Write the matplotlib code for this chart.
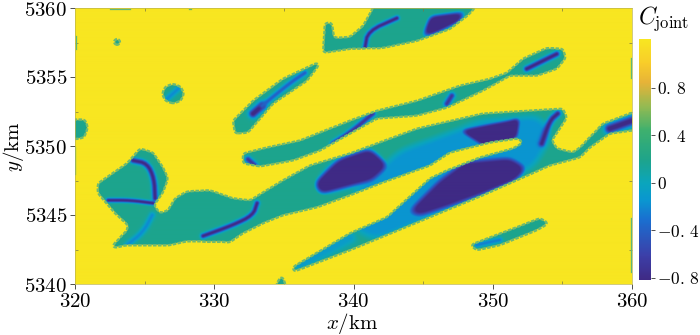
import numpy as np
from matplotlib import pyplot as plt
from matplotlib.colors import LinearSegmentedColormap
from matplotlib.path import Path

plt.rcParams.update({'mathtext.fontset': 'cm', 'font.family': 'serif', 'font.size': 13})

# Ranges of the map and colour scale
x_range = (320, 360)
y_range = (5340, 5360)
c_range = (-0.82, 1.21)
x_ticks = [320, 330, 340, 350, 360]
y_ticks = [5340, 5345, 5350, 5355, 5360]
c_ticks = [-0.8, -0.4, 0, 0.4, 0.8]
c_labels = [r'$-0.\,8$', r'$-0.\,4$', r'$0$', r'$0.\,4$', r'$0.\,8$']

background = 1.21
body_value = 0.18

# Outlines of the low-value bodies [km]
main_body = [(322.73, 5342.82), (323.73, 5343.90), (323.81, 5344.26), (322.87, 5345.13), (321.65, 5346.57),
             (321.65, 5347.29), (323.73, 5348.74), (324.67, 5349.82), (325.60, 5349.53), (326.32, 5348.45),
             (326.68, 5347.65), (326.32, 5346.64), (325.67, 5345.70), (326.10, 5345.13), (326.68, 5345.34),
             (327.18, 5346.21), (328.04, 5346.71), (329.69, 5346.79), (331.34, 5346.21), (332.57, 5346.06),
             (334.93, 5347.51), (336.87, 5348.59), (339.75, 5349.46), (344.56, 5351.26), (349.29, 5352.35),
             (355.04, 5352.71), (355.33, 5352.06), (354.25, 5350.40), (354.61, 5349.82), (355.76, 5349.53),
             (356.26, 5349.89), (357.91, 5351.62), (360.50, 5352.60), (360.50, 5351.20), (358.41, 5350.90),
             (356.98, 5349.89), (356.26, 5349.17), (354.11, 5348.59), (349.29, 5346.43), (339.75, 5342.45),
             (335.65, 5340.87), (335.65, 5341.23), (339.75, 5343.68), (342.40, 5344.84), (345.49, 5347.65),
             (346.71, 5348.23), (349.08, 5349.17), (351.45, 5349.82), (352.09, 5350.18), (352.09, 5350.40),
             (351.74, 5350.54), (349.80, 5350.25), (346.93, 5349.53), (345.49, 5348.59), (342.11, 5347.36),
             (339.75, 5346.43), (337.38, 5345.56), (334.93, 5344.98), (333.50, 5344.40), (332.06, 5343.68),
             (331.13, 5343.03), (328.04, 5343.10), (326.82, 5342.82), (323.73, 5342.82), (322.73, 5342.60)]
upper_body = [(332.06, 5349.46), (333.79, 5349.89), (336.16, 5350.40), (339.75, 5351.84), (341.68, 5352.56),
              (344.56, 5353.28), (347.64, 5354.37), (349.80, 5354.87), (351.02, 5355.31), (352.17, 5356.32),
              (353.89, 5357.11), (355.04, 5357.04), (355.25, 5356.39), (354.61, 5355.60), (353.17, 5355.09),
              (351.23, 5355.09), (349.29, 5354.01), (346.71, 5352.78), (344.56, 5352.20), (341.68, 5351.99),
              (339.75, 5350.90), (337.59, 5349.67), (335.65, 5348.95), (333.28, 5348.52), (332.06, 5348.74)]
top_body = [(337.95, 5358.92), (338.45, 5358.92), (338.60, 5357.83), (339.75, 5357.91), (340.68, 5358.70),
            (341.68, 5360.50), (349.20, 5360.50), (348.15, 5359.42), (346.93, 5358.48), (344.56, 5357.62),
            (342.11, 5357.11), (339.75, 5357.04), (337.81, 5356.75)]
slim_body = [(337.38, 5356.03), (334.93, 5354.87), (332.78, 5353.28), (331.34, 5351.84), (331.49, 5350.90),
             (332.42, 5350.97), (334.22, 5353.07), (336.66, 5354.73), (337.59, 5355.96)]
small_lens = [(348.36, 5342.82), (351.74, 5344.12), (353.39, 5344.77), (354.03, 5344.40), (353.17, 5343.90),
              (350.52, 5342.82), (348.86, 5342.45)]
ellipse_body = [(326.25, 5353.79), (326.48, 5354.30), (327.04, 5354.51), (327.60, 5354.30), (327.83, 5353.79),
                (327.60, 5353.28), (327.04, 5353.07), (326.48, 5353.28)]
dot_body = [(322.72, 5357.54), (323.02, 5357.84), (323.32, 5357.54), (323.02, 5357.24)]
left_blob = [(319.50, 5351.91), (320.72, 5351.91), (320.93, 5351.34), (320.65, 5350.61), (319.50, 5350.40)]
bottom_blob = [(334.15, 5339.50), (334.86, 5340.65), (335.29, 5339.50)]
bodies = [main_body, upper_body, top_body, slim_body, small_lens, ellipse_body, dot_body, left_blob, bottom_blob]

# Thin green marks along the frame [km]
edge_marks = [[(320.05, 5357.98), (320.05, 5357.04)], [(322.50, 5359.93), (323.95, 5359.93)],
              [(328.20, 5359.93), (328.35, 5359.93)], [(359.93, 5344.77), (359.93, 5340.87)],
              [(359.93, 5356.40), (359.93, 5354.90)], [(320.03, 5349.90), (320.03, 5348.00)]]

# Broad low areas: outline, value, smoothing [km]
halo_area = [(339.75, 5346.43), (343.34, 5349.67), (346.93, 5350.97), (349.08, 5351.84), (353.39, 5352.20),
             (354.25, 5350.76), (353.03, 5348.59), (349.08, 5346.28), (344.77, 5344.48), (341.54, 5343.18),
             (340.10, 5343.90)]
blob_top = [(344.91, 5357.83), (345.49, 5359.42), (348.15, 5359.78), (347.64, 5359.06), (346.21, 5358.34)]
blob_mid = [(337.20, 5347.30), (338.90, 5349.00), (341.18, 5349.80), (342.50, 5348.59), (341.30, 5347.50),
            (339.39, 5347.00), (337.59, 5346.50)]
blob_east = [(347.64, 5351.12), (351.23, 5351.84), (351.95, 5352.06), (351.74, 5350.61), (349.58, 5349.89)]
blob_big = [(343.91, 5345.15), (345.13, 5346.38), (346.21, 5347.47), (348.00, 5348.81), (351.23, 5349.10),
            (352.45, 5348.38), (351.59, 5347.51), (349.29, 5346.57), (346.93, 5345.70), (344.77, 5344.98)]
areas = [(halo_area, -0.15, 0.5), (blob_mid, -0.25, 0.7), (blob_big, -0.25, 0.6), (blob_top, -0.9, 0.25),
         (blob_mid, -0.9, 0.3), (blob_east, -0.9, 0.2), (blob_big, -0.9, 0.3)]

# Narrow streaks: centre line, half width [km], value
streaks = [([(322.37, 5346.06), (323.95, 5346.06), (325.60, 5345.85)], 0.15, -0.85),
           ([(324.16, 5348.95), (325.17, 5348.74), (325.67, 5347.65), (325.74, 5346.21)], 0.2, -0.85),
           ([(323.73, 5342.82), (324.88, 5343.75), (325.53, 5344.98)], 0.22, -0.2),
           ([(329.19, 5343.47), (331.34, 5344.26), (332.78, 5344.98), (333.07, 5345.85)], 0.18, -0.85),
           ([(332.78, 5352.35), (333.43, 5352.92)], 0.3, -0.9),
           ([(333.43, 5352.92), (335.44, 5354.58), (336.51, 5355.31)], 0.2, -0.4),
           ([(332.42, 5349.03), (332.92, 5348.59)], 0.22, -0.7),
           ([(338.52, 5350.18), (339.75, 5350.97), (341.40, 5352.35)], 0.2, -0.7),
           ([(346.71, 5353.07), (347.07, 5353.65)], 0.22, -0.7),
           ([(352.45, 5355.60), (354.61, 5356.68)], 0.2, -0.85),
           ([(340.82, 5357.11), (341.04, 5358.34), (343.12, 5359.28)], 0.17, -0.85),
           ([(353.53, 5350.18), (354.11, 5351.84), (354.68, 5352.35)], 0.22, -0.85),
           ([(358.41, 5351.26), (360.20, 5351.90)], 0.35, -0.9),
           ([(326.61, 5353.43), (327.40, 5354.15)], 0.22, -0.2),
           ([(348.86, 5342.82), (350.52, 5343.18)], 0.2, -0.25),
           ([(336.16, 5341.37), (339.75, 5343.32)], 0.45, -0.1)]

# Parula like colours
cmap = LinearSegmentedColormap.from_list('joint', [(0.00, '#3f2a85'), (0.10, '#3c3fa8'), (0.25, '#1a6fd0'),
                                                   (0.33, '#0a96d0'), (0.40, '#0aa5bd'), (0.50, '#1ea48a'),
                                                   (0.62, '#3eb06e'), (0.72, '#93ba52'), (0.82, '#e6b338'),
                                                   (0.90, '#f8cc2a'), (1.00, '#f8e621')])

# Grid of the field, twice the pixel size
nx, ny = 1114, 554
gx = np.linspace(x_range[0], x_range[1], nx)
gy = np.linspace(y_range[0], y_range[1], ny)
X, Y = np.meshgrid(gx, gy)
pts = np.column_stack([X.ravel(), Y.ravel()])
dx = gx[1] - gx[0]


def inside(poly):
    return Path(poly + [poly[0]]).contains_points(pts).reshape(X.shape).astype(float)


def smooth(a, sigma):
    n = int(3*sigma/dx) + 1
    k = np.exp(-0.5*(np.arange(-n, n + 1)*dx/sigma)**2)
    k = k/k.sum()
    a = np.pad(a, n, mode='edge')
    a = np.apply_along_axis(lambda r: np.convolve(r, k, mode='same'), 0, a)
    a = np.apply_along_axis(lambda r: np.convolve(r, k, mode='same'), 1, a)
    return a[n:-n, n:-n]


def round_line(line, times=2):
    # rounds the kinks of a hand-read centre line
    p = np.array(line)
    for _ in range(times):
        q = np.empty((2*(len(p) - 1), 2))
        q[0::2] = 0.75*p[:-1] + 0.25*p[1:]
        q[1::2] = 0.25*p[:-1] + 0.75*p[1:]
        p = np.vstack([p[0], q, p[-1]])
    return p


def line_distance(line):
    d = np.full(X.shape, 1e9)
    for (x0, y0), (x1, y1) in zip(line[:-1], line[1:]):
        t = ((X - x0)*(x1 - x0) + (Y - y0)*(y1 - y0))/((x1 - x0)**2 + (y1 - y0)**2)
        t = np.clip(t, 0, 1)
        d = np.minimum(d, np.hypot(X - x0 - t*(x1 - x0), Y - y0 - t*(y1 - y0)))
    return d


field = np.full(X.shape, float(body_value))
for poly, value, sigma in areas:
    m = np.clip((smooth(inside(poly), sigma) - 0.25)/0.5, 0, 1)
    field = field*(1 - m) + value*m
for line, width, value in streaks:
    m = np.exp(-(line_distance(round_line(line))/width)**2)
    field = field*(1 - m) + value*m

mask = np.zeros(X.shape)
for poly in bodies:
    mask = np.maximum(mask, inside(poly))
mask = smooth(mask, 0.13)
edge = np.clip((mask - 0.5)/0.16, 0, 1)
field = background*(1 - edge) + field*edge

# Plotter
fig = plt.figure(figsize=(7, 3.35), dpi=100)
ax = fig.add_axes([75/700, 1 - 284/335, 557/700, 276/335])
im = ax.imshow(field, origin='lower', extent=[*x_range, *y_range], aspect='auto', cmap=cmap,
               vmin=c_range[0], vmax=c_range[1], interpolation='bilinear')
ax.contour(X, Y, mask, [0.5], colors='#70bb70', linewidths=1.7, linestyles=[(0, (1.5, 0.6))])
for line in edge_marks:
    lx, ly = zip(*line)
    ax.plot(lx, ly, color='#5fb878', lw=0.9)
ax.set_xlim(x_range)
ax.set_ylim(y_range)

ax.set_xticks(x_ticks, [r'$%d$' % v for v in x_ticks])
ax.set_yticks(y_ticks, [r'$%d$' % v for v in y_ticks])
ax.set_xticks([325, 335, 345, 355], minor=True)
ax.set_yticks([5342.5, 5347.5, 5352.5, 5357.5], minor=True)
ax.tick_params(which='major', length=3.5, width=0.6, direction='out', labelsize=15, pad=2, color='#333333')
ax.tick_params(which='minor', length=2, width=0.5, direction='in', top=True, right=True, color='#777744')
for s in ax.spines.values():
    s.set_linewidth(0.5)
    s.set_color('#bdb54a')
fig.text(352/700, 1 - 323/335, r'$x/\mathrm{km}$', ha='center', va='center', fontsize=15)
fig.text(13/700, 1 - 147/335, r'$y/\mathrm{km}$', ha='center', va='center', rotation=90, fontsize=15)

cax = fig.add_axes([639/700, 1 - 280/335, 12/700, 241/335])
cb = fig.colorbar(im, cax=cax)
cb.set_ticks(c_ticks, labels=c_labels)
cb.ax.tick_params(length=3, width=0.6, labelsize=12.5, pad=1, color='#333333')
cb.outline.set_visible(False)
fig.text(638/700, 1 - 19/335, r'$C_{\mathrm{joint}}$', ha='left', va='center', fontsize=17)

plt.savefig('out.png', dpi=100)
plt.close()
